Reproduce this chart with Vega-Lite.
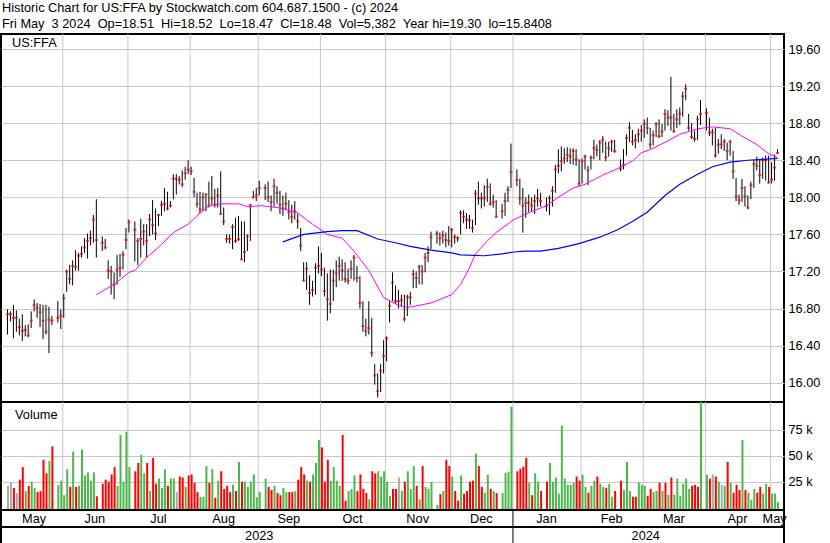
{
"$schema": "https://vega.github.io/schema/vega-lite/v6.json",
"padding": {"left": 0, "top": 1, "right": 0, "bottom": 0},
"background": "white",
"bounds": "flush",
"spacing": 0,
"config": {
  "font": "Liberation Sans",
  "view": {"stroke": "black", "strokeWidth": 2},
  "axis": {"labelFont": "Liberation Sans", "labelFontSize": 12.75, "labelColor": "black", "gridColor": "#c8c8c8", "gridOpacity": 1, "domain": false, "ticks": false},
  "title": {"font": "Liberation Sans", "fontWeight": "normal", "color": "black", "fontSize": 12.75}
},
"title": {
  "text": ["Historic Chart for US:FFA by Stockwatch.com 604.687.1500 - (c) 2024", "Fri May \u00a03 2024 \u00a0Op=18.51 \u00a0Hi=18.52 \u00a0Lo=18.47 \u00a0Cl=18.48 \u00a0Vol=5,382 \u00a0Year hi=19.30 \u00a0lo=15.8408"],
  "anchor": "start", "baseline": "alphabetic", "offset": -8, "lineHeight": 16, "dx": 2
},
"resolve": {"scale": {"x": "shared"}},
"datasets": {
  "bars": [
{"i":0,"d":"2023-05-05","h":16.79,"l":16.52,"c":16.74,"v":21000,"t":"eq"},
{"i":1,"d":"2023-05-08","h":16.77,"l":16.66,"c":16.74,"v":24000,"t":"eq"},
{"i":2,"d":"2023-05-09","h":16.84,"l":16.48,"c":16.70,"v":19000,"t":"dn"},
{"i":3,"d":"2023-05-10","h":16.78,"l":16.55,"c":16.70,"v":14000,"t":"eq"},
{"i":4,"d":"2023-05-11","h":16.69,"l":16.51,"c":16.60,"v":27000,"t":"dn"},
{"i":5,"d":"2023-05-12","h":16.74,"l":16.45,"c":16.56,"v":39000,"t":"dn"},
{"i":6,"d":"2023-05-15","h":16.62,"l":16.50,"c":16.57,"v":16000,"t":"up"},
{"i":7,"d":"2023-05-16","h":16.63,"l":16.49,"c":16.51,"v":21000,"t":"dn"},
{"i":8,"d":"2023-05-17","h":16.77,"l":16.59,"c":16.67,"v":25000,"t":"up"},
{"i":9,"d":"2023-05-18","h":16.90,"l":16.77,"c":16.84,"v":19000,"t":"up"},
{"i":10,"d":"2023-05-19","h":16.86,"l":16.70,"c":16.81,"v":15000,"t":"dn"},
{"i":11,"d":"2023-05-22","h":16.85,"l":16.60,"c":16.76,"v":16000,"t":"dn"},
{"i":12,"d":"2023-05-23","h":16.84,"l":16.47,"c":16.67,"v":46000,"t":"dn"},
{"i":13,"d":"2023-05-24","h":16.84,"l":16.52,"c":16.55,"v":33000,"t":"dn"},
{"i":14,"d":"2023-05-25","h":16.82,"l":16.32,"c":16.68,"v":45000,"t":"up"},
{"i":15,"d":"2023-05-26","h":16.72,"l":16.62,"c":16.67,"v":59000,"t":"dn"},
{"i":17,"d":"2023-05-30","h":16.88,"l":16.65,"c":16.70,"v":22000,"t":"up"},
{"i":18,"d":"2023-05-31","h":16.79,"l":16.58,"c":16.72,"v":26000,"t":"up"},
{"i":19,"d":"2023-06-01","h":16.96,"l":16.70,"c":16.91,"v":12000,"t":"up"},
{"i":20,"d":"2023-06-02","h":17.22,"l":16.98,"c":17.20,"v":37000,"t":"up"},
{"i":21,"d":"2023-06-05","h":17.27,"l":17.06,"c":17.12,"v":20000,"t":"dn"},
{"i":22,"d":"2023-06-06","h":17.32,"l":17.05,"c":17.26,"v":54000,"t":"up"},
{"i":23,"d":"2023-06-07","h":17.43,"l":17.21,"c":17.25,"v":20000,"t":"dn"},
{"i":24,"d":"2023-06-08","h":17.40,"l":17.21,"c":17.37,"v":21000,"t":"up"},
{"i":25,"d":"2023-06-09","h":17.47,"l":17.35,"c":17.39,"v":56000,"t":"up"},
{"i":26,"d":"2023-06-12","h":17.56,"l":17.40,"c":17.46,"v":31000,"t":"up"},
{"i":27,"d":"2023-06-13","h":17.61,"l":17.34,"c":17.53,"v":34000,"t":"up"},
{"i":28,"d":"2023-06-14","h":17.64,"l":17.48,"c":17.56,"v":26000,"t":"up"},
{"i":29,"d":"2023-06-15","h":17.81,"l":17.51,"c":17.76,"v":34000,"t":"up"},
{"i":30,"d":"2023-06-16","h":17.98,"l":17.35,"c":17.54,"v":11000,"t":"dn"},
{"i":32,"d":"2023-06-20","h":17.58,"l":17.42,"c":17.51,"v":23000,"t":"dn"},
{"i":33,"d":"2023-06-21","h":17.55,"l":17.44,"c":17.46,"v":27000,"t":"dn"},
{"i":34,"d":"2023-06-22","h":17.32,"l":17.12,"c":17.21,"v":25000,"t":"dn"},
{"i":35,"d":"2023-06-23","h":17.26,"l":16.95,"c":17.20,"v":32000,"t":"dn"},
{"i":36,"d":"2023-06-26","h":17.19,"l":16.90,"c":17.06,"v":39000,"t":"dn"},
{"i":37,"d":"2023-06-27","h":17.38,"l":17.06,"c":17.22,"v":21000,"t":"up"},
{"i":38,"d":"2023-06-28","h":17.39,"l":17.14,"c":17.24,"v":70000,"t":"up"},
{"i":39,"d":"2023-06-29","h":17.42,"l":17.22,"c":17.38,"v":25000,"t":"up"},
{"i":40,"d":"2023-06-30","h":17.67,"l":17.44,"c":17.54,"v":73000,"t":"up"},
{"i":41,"d":"2023-07-03","h":17.76,"l":17.62,"c":17.73,"v":39000,"t":"up"},
{"i":43,"d":"2023-07-05","h":17.74,"l":17.31,"c":17.65,"v":35000,"t":"dn"},
{"i":44,"d":"2023-07-06","h":17.56,"l":17.27,"c":17.53,"v":43000,"t":"dn"},
{"i":45,"d":"2023-07-07","h":17.77,"l":17.35,"c":17.55,"v":51000,"t":"up"},
{"i":46,"d":"2023-07-10","h":17.71,"l":17.48,"c":17.63,"v":33000,"t":"up"},
{"i":47,"d":"2023-07-11","h":17.71,"l":17.35,"c":17.53,"v":43000,"t":"dn"},
{"i":48,"d":"2023-07-12","h":17.82,"l":17.58,"c":17.76,"v":16000,"t":"up"},
{"i":49,"d":"2023-07-13","h":17.97,"l":17.60,"c":17.70,"v":48000,"t":"dn"},
{"i":50,"d":"2023-07-14","h":17.88,"l":17.54,"c":17.61,"v":23000,"t":"dn"},
{"i":51,"d":"2023-07-17","h":17.82,"l":17.69,"c":17.81,"v":28000,"t":"up"},
{"i":52,"d":"2023-07-18","h":17.96,"l":17.80,"c":17.92,"v":19000,"t":"up"},
{"i":53,"d":"2023-07-19","h":18.10,"l":17.85,"c":17.93,"v":37000,"t":"up"},
{"i":54,"d":"2023-07-20","h":18.06,"l":17.86,"c":17.88,"v":21000,"t":"dn"},
{"i":55,"d":"2023-07-21","h":17.96,"l":17.89,"c":17.91,"v":28000,"t":"up"},
{"i":56,"d":"2023-07-24","h":18.25,"l":17.98,"c":18.20,"v":28000,"t":"up"},
{"i":57,"d":"2023-07-25","h":18.25,"l":18.03,"c":18.20,"v":15000,"t":"eq"},
{"i":58,"d":"2023-07-26","h":18.23,"l":18.14,"c":18.19,"v":30000,"t":"dn"},
{"i":59,"d":"2023-07-27","h":18.29,"l":18.11,"c":18.14,"v":29000,"t":"dn"},
{"i":60,"d":"2023-07-28","h":18.33,"l":18.19,"c":18.26,"v":20000,"t":"up"},
{"i":61,"d":"2023-07-31","h":18.40,"l":18.25,"c":18.30,"v":31000,"t":"dn"},
{"i":62,"d":"2023-08-01","h":18.33,"l":18.24,"c":18.28,"v":32000,"t":"dn"},
{"i":63,"d":"2023-08-02","h":18.21,"l":18.00,"c":18.06,"v":24000,"t":"dn"},
{"i":64,"d":"2023-08-03","h":18.05,"l":17.89,"c":17.93,"v":15000,"t":"dn"},
{"i":65,"d":"2023-08-04","h":18.06,"l":17.83,"c":17.87,"v":10500,"t":"up"},
{"i":66,"d":"2023-08-07","h":18.05,"l":17.85,"c":18.00,"v":10500,"t":"up"},
{"i":67,"d":"2023-08-08","h":18.04,"l":17.85,"c":18.03,"v":40000,"t":"up"},
{"i":68,"d":"2023-08-09","h":18.17,"l":17.89,"c":17.91,"v":24000,"t":"dn"},
{"i":69,"d":"2023-08-10","h":18.23,"l":17.92,"c":17.99,"v":37000,"t":"up"},
{"i":70,"d":"2023-08-11","h":18.09,"l":17.89,"c":17.92,"v":9600,"t":"dn"},
{"i":71,"d":"2023-08-14","h":18.10,"l":17.89,"c":18.02,"v":26000,"t":"up"},
{"i":72,"d":"2023-08-15","h":18.28,"l":17.82,"c":17.82,"v":35000,"t":"dn"},
{"i":73,"d":"2023-08-16","h":17.89,"l":17.70,"c":17.74,"v":18000,"t":"dn"},
{"i":74,"d":"2023-08-17","h":17.60,"l":17.51,"c":17.55,"v":21000,"t":"dn"},
{"i":75,"d":"2023-08-18","h":17.60,"l":17.50,"c":17.55,"v":15000,"t":"dn"},
{"i":76,"d":"2023-08-21","h":17.71,"l":17.44,"c":17.68,"v":22000,"t":"up"},
{"i":77,"d":"2023-08-22","h":17.78,"l":17.51,"c":17.53,"v":16000,"t":"dn"},
{"i":78,"d":"2023-08-23","h":17.80,"l":17.53,"c":17.55,"v":44000,"t":"up"},
{"i":79,"d":"2023-08-24","h":17.74,"l":17.33,"c":17.33,"v":25000,"t":"dn"},
{"i":80,"d":"2023-08-25","h":17.74,"l":17.30,"c":17.41,"v":25000,"t":"up"},
{"i":81,"d":"2023-08-28","h":17.60,"l":17.42,"c":17.58,"v":20000,"t":"up"},
{"i":82,"d":"2023-08-29","h":17.92,"l":17.53,"c":17.92,"v":25000,"t":"up"},
{"i":83,"d":"2023-08-30","h":18.07,"l":17.99,"c":18.00,"v":32000,"t":"up"},
{"i":84,"d":"2023-08-31","h":18.10,"l":17.96,"c":18.02,"v":10000,"t":"up"},
{"i":85,"d":"2023-09-01","h":18.18,"l":18.02,"c":18.10,"v":15000,"t":"up"},
{"i":87,"d":"2023-09-05","h":18.14,"l":17.97,"c":18.10,"v":28000,"t":"up"},
{"i":88,"d":"2023-09-06","h":18.17,"l":17.95,"c":18.00,"v":20000,"t":"dn"},
{"i":89,"d":"2023-09-07","h":18.02,"l":17.85,"c":17.95,"v":17000,"t":"dn"},
{"i":90,"d":"2023-09-08","h":18.20,"l":17.90,"c":18.12,"v":21000,"t":"up"},
{"i":91,"d":"2023-09-11","h":18.12,"l":17.93,"c":18.05,"v":14000,"t":"dn"},
{"i":92,"d":"2023-09-12","h":18.07,"l":17.82,"c":17.92,"v":12000,"t":"dn"},
{"i":93,"d":"2023-09-13","h":18.02,"l":17.80,"c":17.88,"v":19000,"t":"up"},
{"i":94,"d":"2023-09-14","h":18.05,"l":17.86,"c":17.93,"v":15000,"t":"up"},
{"i":95,"d":"2023-09-15","h":17.97,"l":17.76,"c":17.84,"v":15000,"t":"dn"},
{"i":96,"d":"2023-09-18","h":17.92,"l":17.72,"c":17.79,"v":15000,"t":"dn"},
{"i":97,"d":"2023-09-19","h":17.96,"l":17.76,"c":17.85,"v":16000,"t":"up"},
{"i":98,"d":"2023-09-20","h":17.82,"l":17.66,"c":17.74,"v":27000,"t":"dn"},
{"i":99,"d":"2023-09-21","h":17.67,"l":17.42,"c":17.48,"v":39000,"t":"dn"},
{"i":100,"d":"2023-09-22","h":17.30,"l":17.10,"c":17.10,"v":32000,"t":"dn"},
{"i":101,"d":"2023-09-25","h":17.30,"l":17.00,"c":17.23,"v":26000,"t":"up"},
{"i":102,"d":"2023-09-26","h":17.16,"l":16.84,"c":16.97,"v":25000,"t":"dn"},
{"i":103,"d":"2023-09-27","h":17.10,"l":16.93,"c":17.00,"v":32000,"t":"up"},
{"i":104,"d":"2023-09-28","h":17.29,"l":16.95,"c":17.24,"v":43000,"t":"up"},
{"i":105,"d":"2023-09-29","h":17.47,"l":17.18,"c":17.26,"v":65000,"t":"up"},
{"i":106,"d":"2023-10-02","h":17.40,"l":17.15,"c":17.22,"v":58000,"t":"dn"},
{"i":107,"d":"2023-10-03","h":17.24,"l":16.93,"c":16.99,"v":25000,"t":"dn"},
{"i":108,"d":"2023-10-04","h":17.18,"l":16.67,"c":16.90,"v":46000,"t":"dn"},
{"i":109,"d":"2023-10-05","h":17.22,"l":16.75,"c":16.85,"v":26000,"t":"up"},
{"i":110,"d":"2023-10-06","h":17.22,"l":16.88,"c":17.10,"v":39000,"t":"up"},
{"i":111,"d":"2023-10-09","h":17.32,"l":17.03,"c":17.18,"v":26000,"t":"up"},
{"i":112,"d":"2023-10-10","h":17.36,"l":17.10,"c":17.26,"v":21000,"t":"up"},
{"i":113,"d":"2023-10-11","h":17.33,"l":17.10,"c":17.21,"v":70000,"t":"dn"},
{"i":114,"d":"2023-10-12","h":17.30,"l":17.08,"c":17.12,"v":6700,"t":"dn"},
{"i":115,"d":"2023-10-13","h":17.23,"l":17.06,"c":17.10,"v":16000,"t":"up"},
{"i":116,"d":"2023-10-16","h":17.32,"l":17.12,"c":17.23,"v":18000,"t":"up"},
{"i":117,"d":"2023-10-17","h":17.38,"l":17.10,"c":17.35,"v":31000,"t":"up"},
{"i":118,"d":"2023-10-18","h":17.26,"l":17.08,"c":17.13,"v":16000,"t":"dn"},
{"i":119,"d":"2023-10-19","h":17.15,"l":16.80,"c":16.86,"v":32000,"t":"dn"},
{"i":120,"d":"2023-10-20","h":16.88,"l":16.55,"c":16.61,"v":18000,"t":"dn"},
{"i":121,"d":"2023-10-23","h":16.69,"l":16.50,"c":16.56,"v":14000,"t":"dn"},
{"i":122,"d":"2023-10-24","h":16.88,"l":16.52,"c":16.59,"v":8000,"t":"up"},
{"i":123,"d":"2023-10-25","h":16.70,"l":16.28,"c":16.32,"v":35000,"t":"dn"},
{"i":124,"d":"2023-10-26","h":16.20,"l":15.98,"c":16.08,"v":33000,"t":"dn"},
{"i":125,"d":"2023-10-27","h":16.10,"l":15.84,"c":15.91,"v":35000,"t":"up"},
{"i":126,"d":"2023-10-30","h":16.20,"l":15.90,"c":16.13,"v":30000,"t":"up"},
{"i":127,"d":"2023-10-31","h":16.46,"l":16.10,"c":16.29,"v":35000,"t":"up"},
{"i":128,"d":"2023-11-01","h":16.50,"l":16.23,"c":16.48,"v":25000,"t":"up"},
{"i":129,"d":"2023-11-02","h":16.88,"l":16.65,"c":16.83,"v":11500,"t":"up"},
{"i":130,"d":"2023-11-03","h":17.19,"l":16.88,"c":17.08,"v":18000,"t":"dn"},
{"i":131,"d":"2023-11-06","h":17.05,"l":16.85,"c":16.88,"v":18000,"t":"dn"},
{"i":132,"d":"2023-11-07","h":17.00,"l":16.80,"c":16.88,"v":29000,"t":"eq"},
{"i":133,"d":"2023-11-08","h":16.95,"l":16.82,"c":16.89,"v":16000,"t":"up"},
{"i":134,"d":"2023-11-09","h":16.95,"l":16.66,"c":16.69,"v":25000,"t":"dn"},
{"i":135,"d":"2023-11-10","h":16.95,"l":16.72,"c":16.92,"v":35000,"t":"up"},
{"i":136,"d":"2023-11-13","h":16.98,"l":16.84,"c":16.92,"v":18000,"t":"up"},
{"i":137,"d":"2023-11-14","h":17.22,"l":17.02,"c":17.17,"v":40000,"t":"up"},
{"i":138,"d":"2023-11-15","h":17.20,"l":17.02,"c":17.13,"v":21000,"t":"dn"},
{"i":139,"d":"2023-11-16","h":17.27,"l":17.06,"c":17.25,"v":8000,"t":"up"},
{"i":140,"d":"2023-11-17","h":17.27,"l":17.06,"c":17.20,"v":40000,"t":"dn"},
{"i":141,"d":"2023-11-20","h":17.40,"l":17.19,"c":17.35,"v":20000,"t":"up"},
{"i":142,"d":"2023-11-21","h":17.47,"l":17.30,"c":17.40,"v":18000,"t":"up"},
{"i":143,"d":"2023-11-22","h":17.63,"l":17.44,"c":17.57,"v":25000,"t":"up"},
{"i":145,"d":"2023-11-24","h":17.64,"l":17.50,"c":17.61,"v":2600,"t":"up"},
{"i":146,"d":"2023-11-27","h":17.62,"l":17.48,"c":17.56,"v":13000,"t":"dn"},
{"i":147,"d":"2023-11-28","h":17.64,"l":17.50,"c":17.59,"v":16000,"t":"up"},
{"i":148,"d":"2023-11-29","h":17.62,"l":17.46,"c":17.54,"v":46000,"t":"dn"},
{"i":149,"d":"2023-11-30","h":17.69,"l":17.48,"c":17.53,"v":40000,"t":"dn"},
{"i":150,"d":"2023-12-01","h":17.67,"l":17.46,"c":17.65,"v":30000,"t":"up"},
{"i":151,"d":"2023-12-04","h":17.60,"l":17.50,"c":17.57,"v":16000,"t":"dn"},
{"i":152,"d":"2023-12-05","h":17.58,"l":17.52,"c":17.56,"v":6700,"t":"dn"},
{"i":153,"d":"2023-12-06","h":17.86,"l":17.60,"c":17.83,"v":31000,"t":"up"},
{"i":154,"d":"2023-12-07","h":17.86,"l":17.72,"c":17.79,"v":13500,"t":"dn"},
{"i":155,"d":"2023-12-08","h":17.83,"l":17.66,"c":17.76,"v":16000,"t":"dn"},
{"i":156,"d":"2023-12-11","h":17.81,"l":17.66,"c":17.75,"v":25000,"t":"dn"},
{"i":157,"d":"2023-12-12","h":17.76,"l":17.62,"c":17.67,"v":26000,"t":"dn"},
{"i":158,"d":"2023-12-13","h":18.08,"l":17.70,"c":18.04,"v":52000,"t":"up"},
{"i":159,"d":"2023-12-14","h":18.17,"l":17.92,"c":17.99,"v":40000,"t":"dn"},
{"i":160,"d":"2023-12-15","h":18.05,"l":17.88,"c":17.99,"v":20000,"t":"dn"},
{"i":161,"d":"2023-12-18","h":18.13,"l":17.90,"c":17.99,"v":14400,"t":"up"},
{"i":162,"d":"2023-12-19","h":18.20,"l":17.95,"c":18.11,"v":31700,"t":"up"},
{"i":163,"d":"2023-12-20","h":18.15,"l":17.91,"c":17.93,"v":18000,"t":"dn"},
{"i":164,"d":"2023-12-21","h":18.03,"l":17.89,"c":17.95,"v":16000,"t":"up"},
{"i":165,"d":"2023-12-22","h":17.97,"l":17.78,"c":17.79,"v":14000,"t":"dn"},
{"i":167,"d":"2023-12-26","h":17.93,"l":17.77,"c":17.85,"v":14000,"t":"up"},
{"i":168,"d":"2023-12-27","h":18.05,"l":17.80,"c":17.96,"v":33600,"t":"up"},
{"i":169,"d":"2023-12-28","h":18.12,"l":17.95,"c":18.08,"v":34600,"t":"up"},
{"i":170,"d":"2023-12-29","h":18.58,"l":18.10,"c":18.27,"v":97000,"t":"up"},
{"i":172,"d":"2024-01-02","h":18.30,"l":18.12,"c":18.19,"v":35000,"t":"dn"},
{"i":173,"d":"2024-01-03","h":18.20,"l":17.92,"c":17.99,"v":37500,"t":"dn"},
{"i":174,"d":"2024-01-04","h":18.10,"l":17.62,"c":17.91,"v":39400,"t":"dn"},
{"i":175,"d":"2024-01-05","h":18.00,"l":17.78,"c":17.94,"v":48000,"t":"dn"},
{"i":176,"d":"2024-01-08","h":18.03,"l":17.84,"c":17.94,"v":24000,"t":"up"},
{"i":177,"d":"2024-01-09","h":18.00,"l":17.85,"c":17.91,"v":12000,"t":"dn"},
{"i":178,"d":"2024-01-10","h":18.03,"l":17.82,"c":17.96,"v":33000,"t":"up"},
{"i":179,"d":"2024-01-11","h":18.09,"l":17.90,"c":17.99,"v":25000,"t":"up"},
{"i":180,"d":"2024-01-12","h":18.05,"l":17.90,"c":17.96,"v":16000,"t":"dn"},
{"i":182,"d":"2024-01-16","h":18.00,"l":17.85,"c":17.91,"v":25000,"t":"dn"},
{"i":183,"d":"2024-01-17","h":18.02,"l":17.81,"c":17.99,"v":43000,"t":"up"},
{"i":184,"d":"2024-01-18","h":18.12,"l":17.90,"c":18.07,"v":25000,"t":"up"},
{"i":185,"d":"2024-01-19","h":18.35,"l":18.05,"c":18.30,"v":29000,"t":"up"},
{"i":186,"d":"2024-01-22","h":18.52,"l":18.26,"c":18.34,"v":13500,"t":"up"},
{"i":187,"d":"2024-01-23","h":18.55,"l":18.28,"c":18.39,"v":79000,"t":"up"},
{"i":188,"d":"2024-01-24","h":18.53,"l":18.36,"c":18.42,"v":28000,"t":"up"},
{"i":189,"d":"2024-01-25","h":18.54,"l":18.38,"c":18.46,"v":22000,"t":"up"},
{"i":190,"d":"2024-01-26","h":18.53,"l":18.36,"c":18.44,"v":22000,"t":"up"},
{"i":191,"d":"2024-01-29","h":18.53,"l":18.35,"c":18.50,"v":24000,"t":"up"},
{"i":192,"d":"2024-01-30","h":18.52,"l":18.34,"c":18.41,"v":30000,"t":"dn"},
{"i":193,"d":"2024-01-31","h":18.41,"l":18.12,"c":18.15,"v":26000,"t":"dn"},
{"i":194,"d":"2024-02-01","h":18.42,"l":18.15,"c":18.39,"v":31700,"t":"up"},
{"i":195,"d":"2024-02-02","h":18.46,"l":18.30,"c":18.44,"v":20000,"t":"up"},
{"i":196,"d":"2024-02-05","h":18.34,"l":18.13,"c":18.29,"v":14400,"t":"dn"},
{"i":197,"d":"2024-02-06","h":18.45,"l":18.30,"c":18.43,"v":21000,"t":"up"},
{"i":198,"d":"2024-02-07","h":18.62,"l":18.41,"c":18.53,"v":26000,"t":"up"},
{"i":199,"d":"2024-02-08","h":18.57,"l":18.44,"c":18.51,"v":30000,"t":"dn"},
{"i":200,"d":"2024-02-09","h":18.62,"l":18.40,"c":18.59,"v":23000,"t":"up"},
{"i":201,"d":"2024-02-12","h":18.66,"l":18.48,"c":18.62,"v":20000,"t":"up"},
{"i":202,"d":"2024-02-13","h":18.60,"l":18.39,"c":18.43,"v":19000,"t":"dn"},
{"i":203,"d":"2024-02-14","h":18.60,"l":18.44,"c":18.53,"v":23000,"t":"up"},
{"i":204,"d":"2024-02-15","h":18.62,"l":18.49,"c":18.60,"v":10600,"t":"up"},
{"i":205,"d":"2024-02-16","h":18.62,"l":18.48,"c":18.50,"v":16000,"t":"dn"},
{"i":207,"d":"2024-02-20","h":18.41,"l":18.28,"c":18.31,"v":26000,"t":"dn"},
{"i":208,"d":"2024-02-21","h":18.52,"l":18.30,"c":18.35,"v":17000,"t":"up"},
{"i":209,"d":"2024-02-22","h":18.68,"l":18.45,"c":18.64,"v":44000,"t":"up"},
{"i":210,"d":"2024-02-23","h":18.81,"l":18.60,"c":18.75,"v":16000,"t":"up"},
{"i":211,"d":"2024-02-26","h":18.73,"l":18.56,"c":18.60,"v":10600,"t":"dn"},
{"i":212,"d":"2024-02-27","h":18.68,"l":18.53,"c":18.62,"v":10600,"t":"dn"},
{"i":213,"d":"2024-02-28","h":18.74,"l":18.59,"c":18.68,"v":24000,"t":"up"},
{"i":214,"d":"2024-02-29","h":18.78,"l":18.60,"c":18.72,"v":22000,"t":"up"},
{"i":215,"d":"2024-03-01","h":18.84,"l":18.64,"c":18.79,"v":21000,"t":"up"},
{"i":216,"d":"2024-03-04","h":18.86,"l":18.68,"c":18.75,"v":11500,"t":"dn"},
{"i":217,"d":"2024-03-05","h":18.75,"l":18.53,"c":18.57,"v":18000,"t":"dn"},
{"i":218,"d":"2024-03-06","h":18.72,"l":18.56,"c":18.67,"v":15000,"t":"up"},
{"i":219,"d":"2024-03-07","h":18.81,"l":18.65,"c":18.79,"v":16000,"t":"up"},
{"i":220,"d":"2024-03-08","h":18.84,"l":18.64,"c":18.66,"v":24000,"t":"dn"},
{"i":221,"d":"2024-03-11","h":18.79,"l":18.65,"c":18.71,"v":16000,"t":"up"},
{"i":222,"d":"2024-03-12","h":18.95,"l":18.72,"c":18.90,"v":24000,"t":"dn"},
{"i":223,"d":"2024-03-13","h":18.94,"l":18.77,"c":18.86,"v":12500,"t":"up"},
{"i":224,"d":"2024-03-14","h":19.30,"l":18.72,"c":18.86,"v":29000,"t":"dn"},
{"i":225,"d":"2024-03-15","h":18.90,"l":18.70,"c":18.71,"v":12500,"t":"up"},
{"i":226,"d":"2024-03-18","h":18.95,"l":18.75,"c":18.84,"v":28000,"t":"up"},
{"i":227,"d":"2024-03-19","h":18.97,"l":18.78,"c":18.90,"v":11500,"t":"up"},
{"i":228,"d":"2024-03-20","h":19.14,"l":18.87,"c":19.09,"v":23000,"t":"up"},
{"i":229,"d":"2024-03-21","h":19.22,"l":19.05,"c":19.17,"v":28000,"t":"up"},
{"i":230,"d":"2024-03-22","h":18.90,"l":18.72,"c":18.75,"v":18000,"t":"up"},
{"i":231,"d":"2024-03-25","h":18.80,"l":18.63,"c":18.65,"v":21000,"t":"dn"},
{"i":232,"d":"2024-03-26","h":18.72,"l":18.60,"c":18.63,"v":22000,"t":"dn"},
{"i":233,"d":"2024-03-27","h":18.88,"l":18.62,"c":18.84,"v":20000,"t":"dn"},
{"i":234,"d":"2024-03-28","h":19.05,"l":18.78,"c":18.90,"v":105000,"t":"up"},
{"i":236,"d":"2024-04-01","h":18.96,"l":18.72,"c":18.91,"v":31700,"t":"up"},
{"i":237,"d":"2024-04-02","h":18.86,"l":18.66,"c":18.70,"v":28000,"t":"dn"},
{"i":238,"d":"2024-04-03","h":18.74,"l":18.56,"c":18.70,"v":32000,"t":"eq"},
{"i":239,"d":"2024-04-04","h":18.75,"l":18.43,"c":18.45,"v":30000,"t":"dn"},
{"i":240,"d":"2024-04-05","h":18.63,"l":18.47,"c":18.57,"v":25000,"t":"up"},
{"i":241,"d":"2024-04-08","h":18.68,"l":18.52,"c":18.57,"v":22000,"t":"eq"},
{"i":242,"d":"2024-04-09","h":18.63,"l":18.50,"c":18.60,"v":21000,"t":"up"},
{"i":243,"d":"2024-04-10","h":18.59,"l":18.40,"c":18.50,"v":44000,"t":"dn"},
{"i":244,"d":"2024-04-11","h":18.62,"l":18.45,"c":18.60,"v":24000,"t":"up"},
{"i":245,"d":"2024-04-12","h":18.50,"l":18.20,"c":18.28,"v":14400,"t":"dn"},
{"i":246,"d":"2024-04-15","h":18.21,"l":17.96,"c":18.01,"v":22000,"t":"dn"},
{"i":247,"d":"2024-04-16","h":18.03,"l":17.92,"c":17.97,"v":17000,"t":"dn"},
{"i":248,"d":"2024-04-17","h":18.20,"l":17.95,"c":18.10,"v":65000,"t":"up"},
{"i":249,"d":"2024-04-18","h":18.12,"l":17.90,"c":18.01,"v":17000,"t":"dn"},
{"i":250,"d":"2024-04-19","h":18.02,"l":17.87,"c":17.89,"v":14400,"t":"up"},
{"i":251,"d":"2024-04-22","h":18.17,"l":17.98,"c":18.13,"v":7700,"t":"up"},
{"i":252,"d":"2024-04-23","h":18.40,"l":18.10,"c":18.36,"v":18000,"t":"up"},
{"i":253,"d":"2024-04-24","h":18.44,"l":18.29,"c":18.34,"v":14400,"t":"dn"},
{"i":254,"d":"2024-04-25","h":18.40,"l":18.15,"c":18.24,"v":20000,"t":"dn"},
{"i":255,"d":"2024-04-26","h":18.43,"l":18.20,"c":18.40,"v":13500,"t":"up"},
{"i":256,"d":"2024-04-29","h":18.45,"l":18.18,"c":18.40,"v":23000,"t":"up"},
{"i":257,"d":"2024-04-30","h":18.45,"l":18.15,"c":18.16,"v":20000,"t":"dn"},
{"i":258,"d":"2024-05-01","h":18.38,"l":18.15,"c":18.19,"v":13500,"t":"up"},
{"i":259,"d":"2024-05-02","h":18.46,"l":18.18,"c":18.32,"v":13500,"t":"up"},
{"i":260,"d":"2024-05-03","h":18.52,"l":18.47,"c":18.48,"v":5382,"t":"up"}
  ],
  "ma30": [
{"i":30,"v":16.95},{"i":36,"v":17.06},{"i":41,"v":17.19},{"i":43,"v":17.21},{"i":47,"v":17.35},{"i":52,"v":17.49},{"i":56,"v":17.62},{"i":61,"v":17.71},{"i":65,"v":17.83},{"i":68,"v":17.91},{"i":72,"v":17.93},{"i":78,"v":17.93},{"i":81,"v":17.90},{"i":86,"v":17.91},{"i":93,"v":17.88},{"i":98,"v":17.83},{"i":103,"v":17.71},{"i":108,"v":17.60},{"i":113,"v":17.56},{"i":117,"v":17.42},{"i":122,"v":17.21},{"i":127,"v":16.92},{"i":131,"v":16.85},{"i":135,"v":16.81},{"i":143,"v":16.86},{"i":150,"v":16.95},{"i":153,"v":17.06},{"i":156,"v":17.24},{"i":158,"v":17.39},{"i":162,"v":17.53},{"i":165,"v":17.62},{"i":168,"v":17.69},{"i":171,"v":17.76},{"i":175,"v":17.82},{"i":182,"v":17.91},{"i":186,"v":18.00},{"i":191,"v":18.10},{"i":195,"v":18.14},{"i":201,"v":18.24},{"i":206,"v":18.31},{"i":211,"v":18.39},{"i":214,"v":18.48},{"i":218,"v":18.53},{"i":223,"v":18.61},{"i":227,"v":18.68},{"i":233,"v":18.74},{"i":238,"v":18.76},{"i":244,"v":18.74},{"i":248,"v":18.66},{"i":253,"v":18.57},{"i":257,"v":18.47},{"i":260,"v":18.43}
  ],
  "ma90": [
{"i":93,"v":17.52},{"i":100,"v":17.60},{"i":108,"v":17.63},{"i":113,"v":17.64},{"i":118,"v":17.64},{"i":125,"v":17.55},{"i":131,"v":17.51},{"i":136,"v":17.47},{"i":143,"v":17.43},{"i":150,"v":17.40},{"i":153,"v":17.38},{"i":161,"v":17.37},{"i":167,"v":17.39},{"i":171,"v":17.41},{"i":175,"v":17.42},{"i":180,"v":17.42},{"i":186,"v":17.45},{"i":193,"v":17.50},{"i":200,"v":17.57},{"i":206,"v":17.65},{"i":211,"v":17.74},{"i":216,"v":17.84},{"i":222,"v":18.02},{"i":227,"v":18.14},{"i":233,"v":18.25},{"i":238,"v":18.33},{"i":244,"v":18.38},{"i":250,"v":18.40},{"i":255,"v":18.41},{"i":260,"v":18.42}
  ],
  "months": [
{"m":"May","s":-0.5,"mid":9},{"m":"Jun","s":18.5,"mid":29.5},{"m":"Jul","s":40.5,"mid":51},{"m":"Aug","s":61.5,"mid":73},{"m":"Sep","s":84.5,"mid":95},{"m":"Oct","s":105.5,"mid":116.5},{"m":"Nov","s":127.5,"mid":138.5},{"m":"Dec","s":149.5,"mid":160},{"m":"Jan","s":170.5,"mid":182},{"m":"Feb","s":193.5,"mid":204},{"m":"Mar","s":214.5,"mid":225},{"m":"Apr","s":235.5,"mid":246.5},{"m":"May","s":257.5,"mid":259}
  ],
  "years": [
{"y":"2023","s":-0.5,"mid":85},{"y":"2024","s":170.5,"mid":215.5}
  ],
  "panels": [
{"p":"price","label":"US:FFA","x":-0.5,"top":19.762},
{"p":"volume","label":"Volume","x":-0.5,"top":101634}
  ]
},
"vconcat": [
  {
    "width": 783, "height": 368,
    "layer": [
      {"data": {"name": "months"}, "transform": [{"filter": "datum.s > 0"}],
       "mark": {"type": "rule", "color": "#c8c8c8", "strokeWidth": 1, "xOffset": 0.5},
       "encoding": {"x": {"field": "s", "type": "quantitative", "scale": {"domain": [-0.5, 260.5], "nice": false, "zero": false}, "axis": null}}},
      {"data": {"name": "bars"},
       "mark": {"type": "rule", "color": "black", "strokeWidth": 1},
       "encoding": {
         "x": {"field": "i", "type": "quantitative", "scale": {"domain": [-0.5, 260.5], "nice": false, "zero": false}, "axis": null},
         "y": {"field": "l", "type": "quantitative", "scale": {"domain": [15.792, 19.762], "nice": false, "zero": false},
               "axis": {"orient": "right", "title": null, "grid": true, "format": ".2f", "labelPadding": 4,
                        "values": [16, 16.2, 16.4, 16.6, 16.8, 17, 17.2, 17.4, 17.6, 17.8, 18, 18.2, 18.4, 18.6, 18.8, 19, 19.2, 19.4, 19.6]}},
         "y2": {"field": "h"}}},
      {"data": {"name": "bars"},
       "mark": {"type": "tick", "color": "#ff0000", "orient": "horizontal", "size": 3, "thickness": 2},
       "encoding": {
         "x": {"field": "i", "type": "quantitative"},
         "y": {"field": "c", "type": "quantitative"}}},
      {"data": {"name": "ma30"},
       "mark": {"type": "line", "color": "#ff00ff", "strokeWidth": 1},
       "encoding": {"x": {"field": "i", "type": "quantitative"}, "y": {"field": "v", "type": "quantitative"}}},
      {"data": {"name": "ma90"},
       "mark": {"type": "line", "color": "#0000ff", "strokeWidth": 1.2},
       "encoding": {"x": {"field": "i", "type": "quantitative"}, "y": {"field": "v", "type": "quantitative"}}},
      {"data": {"name": "panels"}, "transform": [{"filter": "datum.p == 'price'"}],
       "mark": {"type": "text", "align": "left", "baseline": "alphabetic", "dx": 6, "dy": 12.5, "fontSize": 12.75, "color": "black"},
       "encoding": {"x": {"field": "x", "type": "quantitative"}, "y": {"field": "top", "type": "quantitative"}, "text": {"field": "label"}}}
    ]
  },
  {
    "width": 783, "height": 108,
    "layer": [
      {"data": {"name": "months"}, "transform": [{"filter": "datum.s > 0"}],
       "mark": {"type": "rule", "color": "#c8c8c8", "strokeWidth": 1, "xOffset": 0.5},
       "encoding": {"x": {"field": "s", "type": "quantitative", "scale": {"domain": [-0.5, 260.5], "nice": false, "zero": false}, "axis": null}}},
      {"data": {"name": "bars"},
       "mark": {"type": "bar", "width": 2, "xOffset": 0.5, "clip": true},
       "encoding": {
         "x": {"field": "i", "type": "quantitative", "scale": {"domain": [-0.5, 260.5], "nice": false, "zero": false}, "axis": null},
         "y": {"field": "v", "type": "quantitative", "scale": {"domain": [-2212, 101634], "nice": false, "zero": false},
               "axis": {"orient": "right", "title": null, "grid": true, "labelPadding": 4, "values": [25000, 50000, 75000],
                        "labelExpr": "format(datum.value / 1000, 'd') + ' k'"}},
         "y2": {"datum": -2212},
         "color": {"field": "t", "type": "nominal", "scale": {"domain": ["up", "dn", "eq"], "range": ["#4db74d", "#ff0000", "#aaaaaa"]}, "legend": null}}},
      {"data": {"name": "panels"}, "transform": [{"filter": "datum.p == 'volume'"}],
       "mark": {"type": "text", "align": "left", "baseline": "alphabetic", "dx": 9, "dy": 16.6, "fontSize": 12.75, "color": "black"},
       "encoding": {"x": {"field": "x", "type": "quantitative"}, "y": {"field": "top", "type": "quantitative"}, "text": {"field": "label"}}}
    ]
  },
  {
    "width": 783, "height": 17,
    "layer": [
      {"data": {"name": "months"},
       "mark": {"type": "text", "fontSize": 12.75, "color": "black", "baseline": "middle"},
       "encoding": {"x": {"field": "mid", "type": "quantitative", "scale": {"domain": [-0.5, 260.5], "nice": false, "zero": false}, "axis": null}, "text": {"field": "m"}}},
      {"data": {"name": "years"}, "transform": [{"filter": "datum.s > 0"}],
       "mark": {"type": "rule", "color": "black", "strokeWidth": 1, "xOffset": 0.5},
       "encoding": {"x": {"field": "s", "type": "quantitative"}}}
    ]
  },
  {
    "width": 783, "height": 17,
    "layer": [
      {"data": {"name": "years"},
       "mark": {"type": "text", "fontSize": 12.75, "color": "black", "baseline": "middle"},
       "encoding": {"x": {"field": "mid", "type": "quantitative", "scale": {"domain": [-0.5, 260.5], "nice": false, "zero": false}, "axis": null}, "text": {"field": "y"}}},
      {"data": {"name": "years"}, "transform": [{"filter": "datum.s > 0"}],
       "mark": {"type": "rule", "color": "black", "strokeWidth": 1, "xOffset": 0.5},
       "encoding": {"x": {"field": "s", "type": "quantitative"}}}
    ]
  }
]
}
